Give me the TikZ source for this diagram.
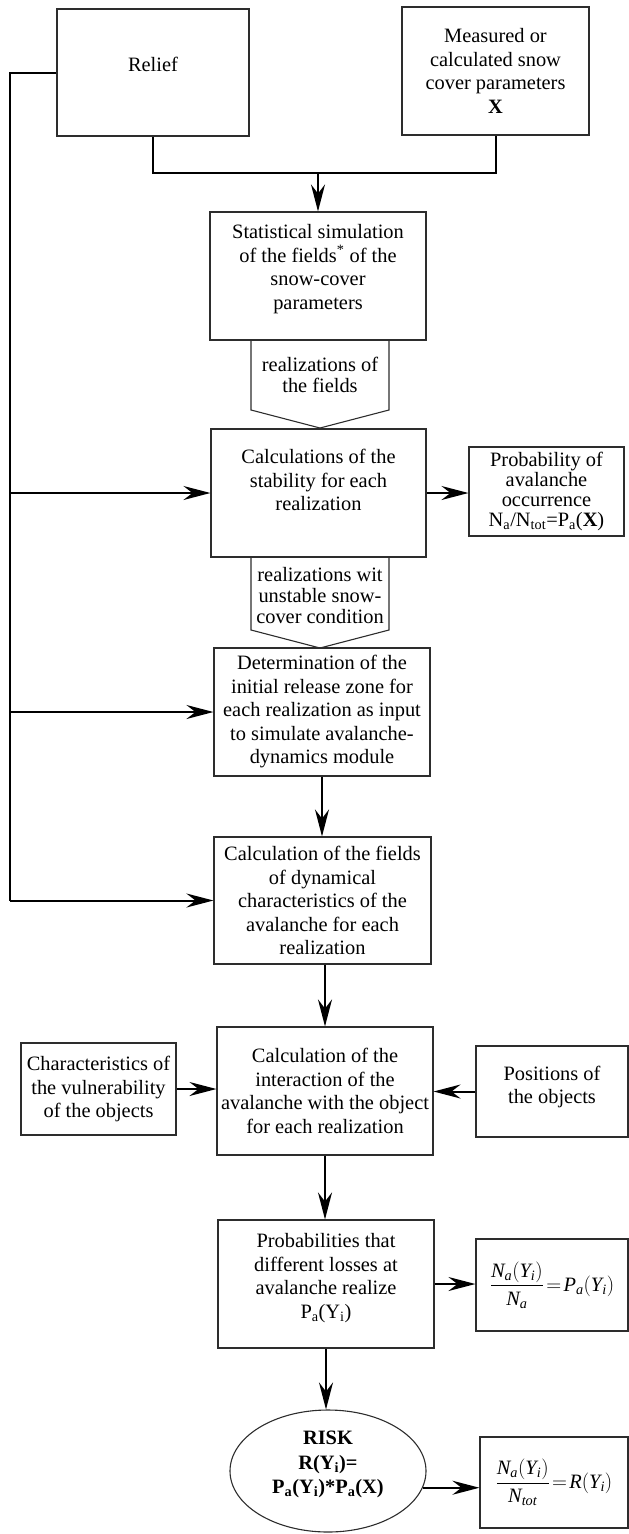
\documentclass[tikz,border=0pt]{standalone}
\usepackage{amsmath}
\usepackage{fontspec}
\setmainfont{Liberation Serif}
\usetikzlibrary{arrows.meta, shapes.geometric, calc}
\definecolor{boxline}{RGB}{45,45,45}
\newcommand{\boxfont}{\fontsize{20.4}{23.5}\selectfont}
\newcommand{\vi}[1]{\textit{#1}}

\begin{document}
\begin{tikzpicture}[
    x=1pt, y=-1pt,
    box/.style 2 args={draw=boxline, line width=1.1pt, minimum width=#1, minimum height=#2, inner sep=1pt, align=center, font=\boxfont},
    blocktext/.style={align=center, inner sep=0pt, font=\fontsize{20.4}{21}\selectfont},
    blockline/.style={draw=boxline, line width=1.1pt},
    line/.style={line width=2pt},
    arrow/.style={line width=2pt, -{Stealth[length=27pt, width=14pt, inset=9pt]}}
]
    \useasboundingbox (0,0) rectangle (629,1534);

    % Inputs
    \node[box={192pt}{127pt}] (relief) at (153,72.5) {Relief\\[-8pt]~};
    \node[box={187pt}{128pt}] (measured) at (495.5,71) {Measured or\\calculated snow\\cover parameters\\\textbf{X}};
    \coordinate (join) at (318,173);
    \coordinate (bus) at (10,0);

    % Main chain
    \node[box={216pt}{128pt}] (stat) at (318,276) {Statistical simulation\\of the fields\textsuperscript{*} of the\\snow-cover\\parameters\\[-5pt]~};
    \node[blocktext] (fieldsout) at (320,375) {realizations of\\the fields};
    \node[box={215pt}{128pt}] (stab) at (318.5,493) {Calculations of the\\stability for each\\realization\\[2pt]~};
    \node[box={155pt}{89pt}, font=\fontsize{20.4}{20}\selectfont] (occur) at (546.5,491.5) {Probability of\\avalanche\\occurrence\\N\textsubscript{a}/N\textsubscript{tot}=P\textsubscript{a}(\textbf{X})};
    \node[blocktext] (unstable) at (320,596) {realizations wit\\unstable snow-\\cover condition};
    \node[box={216pt}{128pt}] (determ) at (322,712) {Determination of the\\initial release zone for\\each realization as input\\to simulate avalanche-\\dynamics module};
    \node[box={217pt}{127pt}] (fields) at (322.5,900.5) {Calculation of the fields\\of dynamical\\characteristics of the\\avalanche for each\\realization};
    \node[box={216pt}{128pt}] (inter) at (325,1091) {Calculation of the\\interaction of the\\avalanche with the object\\for each realization};
    \node[box={155pt}{92pt}] (vuln) at (98.5,1089) {Characteristics of\\the vulnerability\\of the objects};
    \node[box={152pt}{91pt}] (posit) at (552,1091.5) {Positions of\\the objects\\[-10.5pt]~};
    \node[box={216pt}{128pt}] (probs) at (326,1284) {Probabilities that\\different losses at\\avalanche realize\\P\textsubscript{a}(Y\textsubscript{i})\\[-7pt]~};
    \node[box={152pt}{92pt}] (form1) at (552,1285) {$\dfrac{\vi{N}_{\vi{a}}(\vi{Y}_{\vi{i}})}{\vi{N}_{\vi{a}}}\!=\!\vi{P}_{\vi{a}}(\vi{Y}_{\vi{i}})$};
    \node[draw=boxline, line width=1.1pt, ellipse, minimum width=196pt, minimum height=122pt, inner sep=0pt, align=center, font=\fontsize{20.4}{24.5}\selectfont\bfseries] (risk) at (328,1471) {RISK\\R(Y\textsubscript{i})=\\P\textsubscript{a}(Y\textsubscript{i})*P\textsubscript{a}(X)\\[-7pt]~};
    \node[box={148pt}{91pt}] (form2) at (554,1482.5) {$\dfrac{\vi{N}_{\vi{a}}(\vi{Y}_{\vi{i}})}{\vi{N}_{\vi{tot}}}\!=\!\vi{R}(\vi{Y}_{\vi{i}})$};

    % Realization blocks
    \draw[blockline] (251,340) -- (251,410) -- (320,428) -- (389,410) -- (389,340);
    \draw[blockline] (251,557) -- (251,630) -- (320,648) -- (389,630) -- (389,557);

    % Connections
    \draw[line] (relief.south) |- (join) -| (measured.south);
    \draw[arrow] (join) -- (join |- stat.north);
    \draw[line] (relief.west) -| (bus |- fields.west);
    \draw[arrow] (bus |- stab.west) -- (stab.west);
    \draw[arrow] (bus |- determ.west) -- (determ.west);
    \draw[arrow] (bus |- fields.west) -- (fields.west);
    \draw[arrow] (stab.east) -- (stab.east -| occur.west);
    \draw[arrow] (determ.south) -- (determ.south |- fields.north);
    \draw[arrow] (inter.north |- fields.south) -- (inter.north);
    \draw[arrow] (vuln.east) -- (vuln.east -| inter.west);
    \draw[arrow] (posit.west) -- (posit.west -| inter.east);
    \draw[arrow] (inter.south) -- (inter.south |- probs.north);
    \draw[arrow] (probs.east) -- (probs.east -| form1.west);
    \draw[arrow] (probs.south) -- (probs.south |- risk.north);
    \draw[arrow] (risk.-10) -- (risk.-10 -| form2.west);
\end{tikzpicture}
\end{document}
